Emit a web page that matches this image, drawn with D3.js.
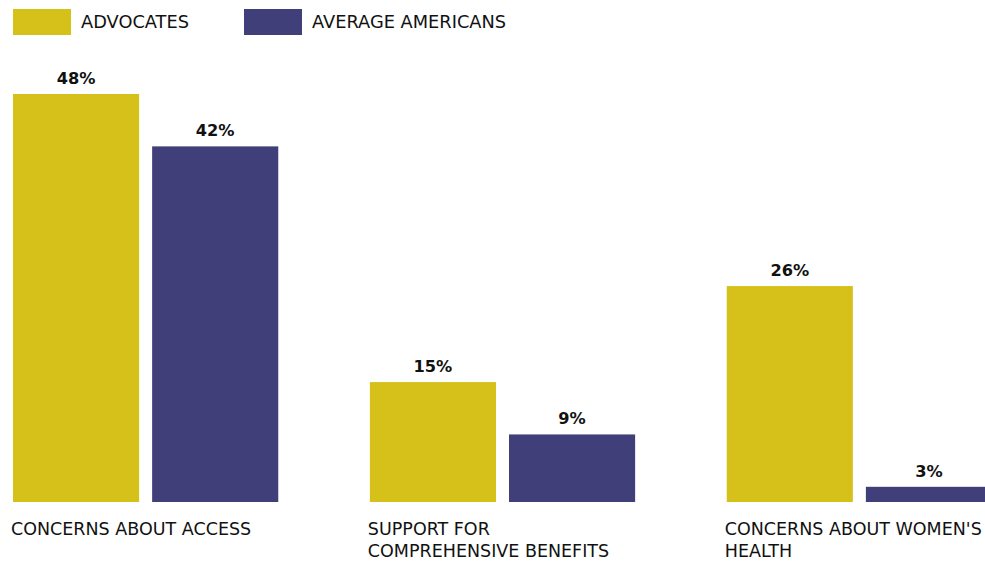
<!DOCTYPE html>
<html>
<head>
<meta charset="utf-8">
<script src="https://cdn.jsdelivr.net/npm/d3@7"></script>
<style>
  body { margin: 0; background: #fff; }
  svg text { font-family: "DejaVu Sans", sans-serif; fill: #111; }
</style>
</head>
<body>
<script>
// data
const categories = [
  ["CONCERNS ABOUT ACCESS"],
  ["SUPPORT FOR", "COMPREHENSIVE BENEFITS"],
  ["CONCERNS ABOUT WOMEN'S", "HEALTH"]
]
const seriesNames = ["ADVOCATES", "AVERAGE AMERICANS"]
const advocates = [48, 15, 26]
const americans = [42, 9, 3]
const colors = ["#D6C11A", "#413F79"]

const width = 985, height = 563
const baseline = 502

const svg = d3.select("body").append("svg")
    .attr("width", width)
    .attr("height", height)

const rows = categories.map((c, i) => ({
    key: i,
    label: c,
    values: [advocates[i], americans[i]]
}))

const x0 = d3.scaleBand()
    .domain(rows.map(d => d.key))
    .range([13, 992])
    .paddingInner(0.2567)
    .paddingOuter(0)

const x1 = d3.scaleBand()
    .domain(seriesNames)
    .range([0, x0.bandwidth()])
    .paddingInner(0.0935)

const y = d3.scaleLinear()
    .domain([0, 48])
    .range([513, 94])

// legend
const legend = svg.append("g")
legend.selectAll("rect")
    .data(seriesNames)
    .enter()
    .append("rect")
    .attr("x", (d, i) => 13 + i * 231)
    .attr("y", 9)
    .attr("width", 58)
    .attr("height", 26)
    .attr("fill", (d, i) => colors[i])
legend.selectAll("text")
    .data(seriesNames)
    .enter()
    .append("text")
    .attr("x", (d, i) => 81 + i * 231)
    .attr("y", 28)
    .attr("font-size", "17.8px")
    .text(d => d)

// bars
const groups = svg.selectAll("g.group")
    .data(rows)
    .enter()
    .append("g")
    .attr("class", "group")
    .attr("transform", d => `translate(${x0(d.key)},0)`)

groups.selectAll("rect")
    .data(d => d.values.map((v, i) => ({ name: seriesNames[i], value: v, i: i })))
    .enter()
    .append("rect")
    .attr("x", d => x1(d.name))
    .attr("y", d => y(d.value))
    .attr("width", x1.bandwidth())
    .attr("height", d => baseline - y(d.value))
    .attr("fill", d => colors[d.i])

groups.selectAll("text.value")
    .data(d => d.values.map((v, i) => ({ name: seriesNames[i], value: v })))
    .enter()
    .append("text")
    .attr("class", "value")
    .attr("x", d => x1(d.name) + x1.bandwidth() / 2)
    .attr("y", d => y(d.value) - 10)
    .attr("text-anchor", "middle")
    .attr("font-size", "16.2px")
    .attr("font-weight", "bold")
    .text(d => d.value + "%")

// category labels
groups.append("text")
    .attr("class", "cat")
    .attr("x", -2)
    .attr("y", 535)
    .attr("font-size", "17.5px")
    .selectAll("tspan")
    .data(d => d.label)
    .enter()
    .append("tspan")
    .attr("x", -2)
    .attr("dy", (d, i) => i == 0 ? 0 : 22)
    .text(d => d)
</script>
</body>
</html>
